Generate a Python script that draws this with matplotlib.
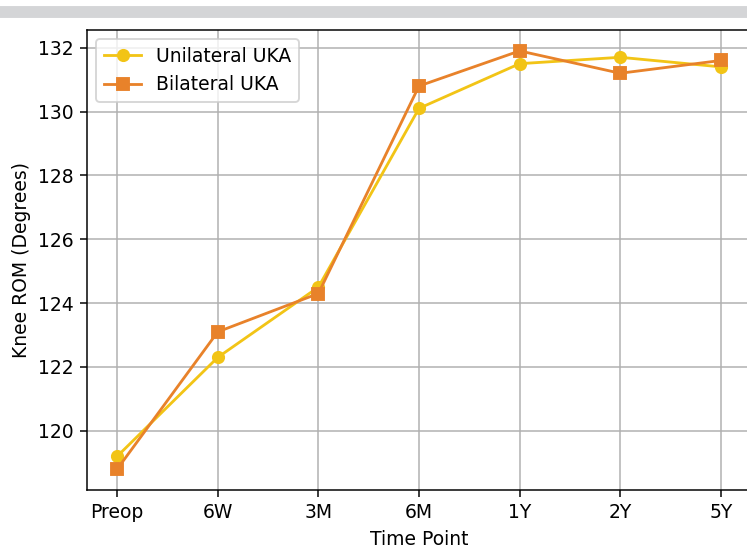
import matplotlib.pyplot as plt
from matplotlib.patches import Rectangle

# Knee ROM over time, unilateral vs bilateral UKA
time_points = ['Preop', '6W', '3M', '6M', '1Y', '2Y', '5Y']
unilateral = [119.2, 122.3, 124.5, 130.1, 131.5, 131.7, 131.4]
bilateral = [118.8, 123.1, 124.3, 130.8, 131.9, 131.2, 131.6]

dpi = 135
fig = plt.figure(figsize=(747 / dpi, 554 / dpi), dpi=dpi)
# screenshot's grey strip at the top
fig.patches.append(Rectangle((0, 1 - 17 / 554), 1, 10 / 554, transform=fig.transFigure,
                             color='#d4d5d7', zorder=0))
ax = fig.add_axes([87 / 747, 64 / 554, 664 / 747, 460 / 554])

ax.plot(time_points, unilateral, marker='o', color='#f2c416', label='Unilateral UKA')
ax.plot(time_points, bilateral, marker='s', color='#e8822a', label='Bilateral UKA')

ax.set_xlabel('Time Point')
ax.set_ylabel('Knee ROM (Degrees)')
ax.grid(True)
ax.legend(loc='upper left')

fig.savefig('out.png', dpi=dpi)
